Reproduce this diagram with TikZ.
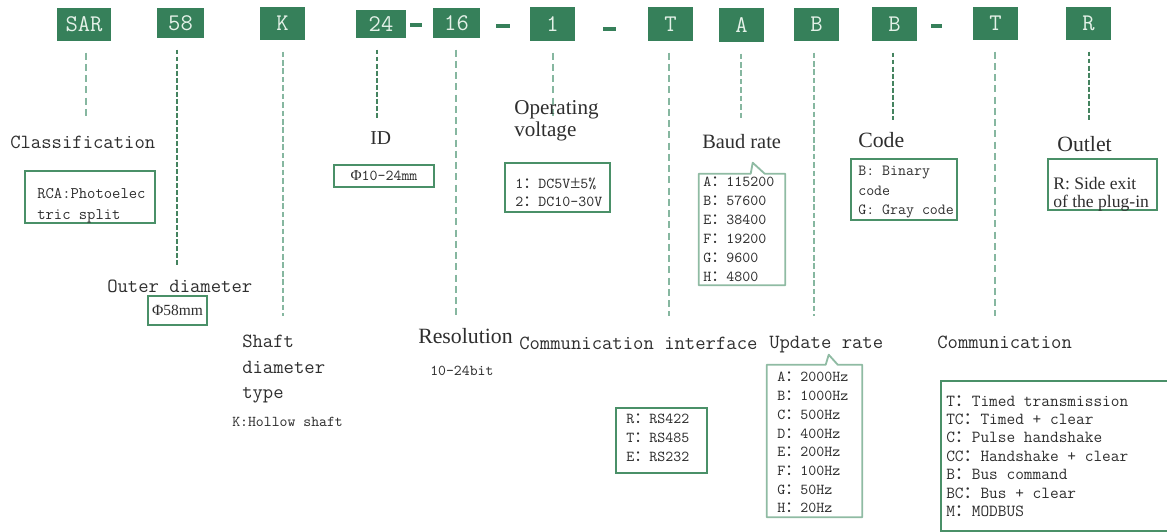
\documentclass[tikz,border=0pt]{standalone}
\usepackage{fontspec}
\usepackage{xcolor}
\newfontfamily\serf{Liberation Serif}
\newfontfamily\cjk{Noto Sans CJK SC}
\newcommand{\fc}{{\cjk ：}}
\definecolor{codegreen}{HTML}{36805A}
\definecolor{codetext}{HTML}{E4F1E8}
\definecolor{framegreen}{HTML}{4A9068}
\definecolor{bubblegreen}{HTML}{8FBBA3}
\definecolor{leadlight}{HTML}{86B7A0}
\definecolor{leaddark}{HTML}{44835F}
\definecolor{ink}{HTML}{2E2E2E}
\tikzset{> = latex,
	wh/.style 2 args={minimum width=#1*0.025cm,minimum height=#2*0.025cm},
	codebox/.style={fill=codegreen,text=codetext,inner sep=0pt,font=\ttfamily\fontsize{17}{17}\selectfont},
	dashbar/.style={fill=codegreen,inner sep=0pt,minimum height=3.5*0.025cm},
	lead/.style={draw=leadlight,line width=0.8pt,dash pattern=on 5pt off 3pt,shorten <=8pt},
	leadm/.style={draw=leadlight,line width=1.5pt,dash pattern=on 4pt off 2pt,shorten <=8pt},
	leadb/.style={draw=leaddark,line width=1.8pt,dash pattern=on 3.5pt off 1.5pt,shorten <=8pt},
	framebox/.style={draw=framegreen,line width=0.8pt,inner sep=0pt,text=ink},
	bubble/.style={draw=bubblegreen,line width=1.3pt,line join=round},
	lblt/.style={text=ink,inner sep=0pt,anchor=base west,font=\ttfamily\fontsize{14.3}{18.1}\selectfont},
	slbl/.style={text=ink,inner sep=0pt,anchor=base west,font=\serf\fontsize{15.5}{15.6}\selectfont},
	listtxt/.style={text=ink,inner sep=0pt,anchor=north west,align=left,font=\ttfamily\fontsize{10.8}{13.4}\selectfont}}
\begin{document}
\begin{tikzpicture}[x=0.025cm,y=-0.025cm]
		\path[use as bounding box,clip] (0,0) rectangle (1167,532);
		\foreach \n/\t/\x/\y/\w/\h in {SAR/SAR/84/24.5/54/33,58/58/180.5/23/47/30,K/K/282.5/23.5/45/33,24/24/381/24/50/28,16/16/456.5/23/47/30,1/1/552.5/24/45/34,T/T/670.5/24/45/34,A/A/741.5/25/45/34,B/B/816.5/24.5/45/33,BB/B/894.5/24/45/34,TT/T/995.5/23.5/45/33,R/R/1088.5/23.5/45/33}
			\node[codebox,wh={\w}{\h}] (c\n) at (\x,\y) {\t};
		\foreach \n/\x/\y/\w in {1/416/25/12,2/503/26/14,3/609.5/29/13,4/936.5/26/11}
			\node[dashbar,minimum width=\w*0.025cm] (d\n) at (\x,\y) {};
		\foreach \n/\x/\y/\s in {SAR/86/118/lead,58/177/266/leadb,K/283/316/leadm,24/377/119/leadb,16/456/316/lead,1/553/120/lead,T/669/316/lead,A/741/120/leadm,B/814/316/leadm,BB/893/120/leadb,TT/995/316/lead,R/1089/120/leadb}
			{\coordinate (e\n) at (\x,\y); \draw[\s] (c\n.south -| e\n)--(e\n);}
		\node[lblt] (lClass) at (10,149) {Classification};
		\node[framebox,wh={130}{52}] (bClass) at (90,197) {};
		\node[listtxt,font=\ttfamily\fontsize{11.5}{15}\selectfont] (tClass) at (37,188) {RCA:Photoelec\\tric split};
		\node[lblt] (lOD) at (107,292) {Outer diameter};
		\node[framebox,wh={59}{29},font=\serf\fontsize{11}{12}\selectfont] (bOD) at (177.5,310.5) {Φ58mm};
		\node[lblt,anchor=north west,align=left] (lShaft) at (242,335) {Shaft\\diameter\\type};
		\node[lblt,font=\ttfamily\fontsize{10.7}{12}\selectfont] (lHollow) at (232,426) {K:Hollow shaft};
		\node[slbl,font=\serf\fontsize{14}{15}\selectfont] (lID) at (370,145) {ID};
		\node[framebox,wh={100}{22},font=\ttfamily\fontsize{10.8}{12}\selectfont] (bID) at (384,176) {{\serf Φ}10-24mm};
		\node[slbl] (lRes) at (418,343) {Resolution};
		\node[lblt,font=\ttfamily\fontsize{10.7}{12}\selectfont] (lBit) at (430,375) {10-24bit};
		\node[slbl,anchor=north west,align=left,font=\serf\fontsize{15}{15.6}\selectfont] (lOper) at (514,100) {Operating\\voltage};
		\node[framebox,wh={105}{49}] (bVolt) at (557.5,187.5) {};
		\node[listtxt,font=\ttfamily\fontsize{10.8}{12.4}\selectfont] (tVolt) at (515,178) {1\fc DC5V{\serf\fontsize{13}{12.4}\selectfont ±}5\%\\2\fc DC10-30V};
		\node[lblt] (lIface) at (519,349) {Communication interface};
		\node[framebox,wh={91}{65}] (bRS) at (661.5,440.5) {};
		\node[listtxt,font=\ttfamily\fontsize{10.8}{13.2}\selectfont] (tRS) at (626,414) {R\fc RS422\\T\fc RS485\\E\fc RS232};
		\node[slbl,font=\serf\fontsize{14.5}{15}\selectfont] (lBaud) at (702,149) {Baud rate};
		\node[wh={86}{111}] (bBaud) at (742,229.5) {};
		\draw[bubble] (bBaud.north west)--++(52,0)--++(2,-11)--++(12,11)--(bBaud.north east)--(bBaud.south east)--(bBaud.south west)--cycle;
		\node[listtxt] (tBaud) at (703,177) {A\fc 115200\\B\fc 57600\\E\fc 38400\\F\fc 19200\\G\fc 9600\\H\fc 4800};
		\node[lblt] (lUpd) at (769,348) {Update rate};
		\node[wh={95}{152}] (bUpd) at (814.5,441) {};
		\draw[bubble] (bUpd.north west)--++(59,0)--++(3,-10)--++(9,10)--(bUpd.north east)--(bUpd.south east)--(bUpd.south west)--cycle;
		\node[listtxt,font=\ttfamily\fontsize{10.8}{13.3}\selectfont] (tUpd) at (777,372) {A\fc 2000Hz\\B\fc 1000Hz\\C\fc 500Hz\\D\fc 400Hz\\E\fc 200Hz\\F\fc 100Hz\\G\fc 50Hz\\H\fc 20Hz};
		\node[slbl] (lCode) at (858,148) {Code};
		\node[framebox,wh={106}{61}] (bCode) at (904,189.5) {};
		\node[listtxt,font=\ttfamily\fontsize{11}{13.9}\selectfont] (tCode) at (858,166) {B: Binary\\code\\G: Gray code};
		\node[lblt] (lComm) at (937,348) {Communication};
		\node[framebox,wh={234}{150}] (bComm) at (1058,456) {};
		\node[listtxt,font=\ttfamily\fontsize{12}{13.15}\selectfont] (tComm) at (946,395) {T\fc Timed transmission\\TC\fc Timed + clear\\C\fc Pulse handshake\\CC\fc Handshake + clear\\B\fc Bus command\\BC\fc Bus + clear\\M\fc MODBUS};
		\node[slbl] (lOut) at (1057,151) {Outlet};
		\node[framebox,wh={109}{51}] (bOut) at (1102.5,184.5) {};
		\node[listtxt,font=\serf\fontsize{12.5}{12.8}\selectfont] (tOut) at (1053,177) {R: Side exit\\of the plug-in};
\end{tikzpicture}
\end{document}
